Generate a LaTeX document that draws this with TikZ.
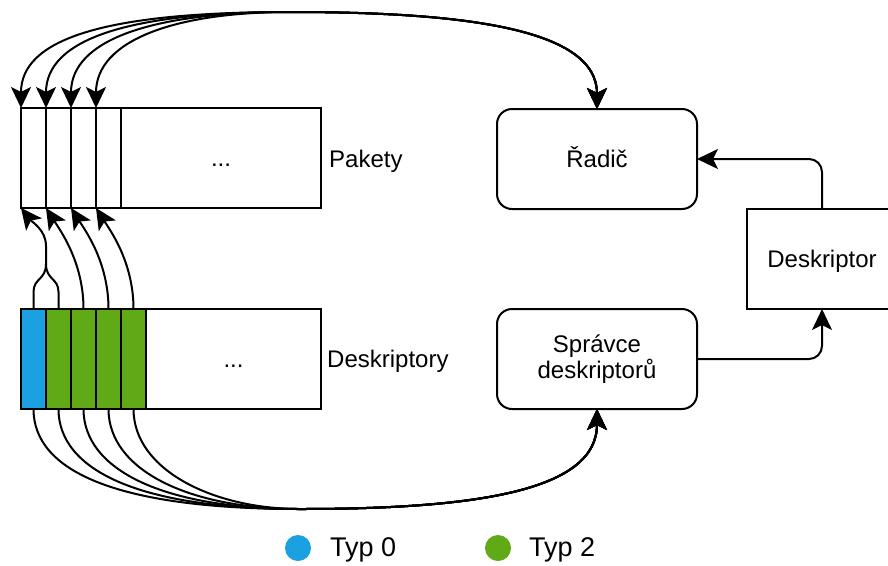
\documentclass[tikz,border=0pt]{standalone}
\usepackage{fontspec}
\setmainfont{Liberation Sans}
\usetikzlibrary{arrows.meta}
\definecolor{tblue}{HTML}{1BA1E2}
\definecolor{tgreen}{HTML}{60A917}
\tikzset{
  tip/.tip={Stealth[length=21pt,width=20pt,inset=5pt]},
  cell/.style={draw, line width=2pt, minimum width=25pt, minimum height=100pt, inner sep=0pt, outer sep=0pt},
  lbl/.style={font=\fontsize{24}{26}\selectfont, inner sep=0pt, text height=17pt, text depth=0pt},
  legtxt/.style={font=\fontsize{27}{30}\selectfont, inner sep=0pt},
  box/.style={draw, line width=2pt, rounded corners=15pt, minimum width=200pt, minimum height=100pt, inner sep=0pt, outer sep=0pt, font=\fontsize{24}{26}\selectfont},
  rectbox/.style={draw, line width=2pt, minimum width=150pt, minimum height=100pt, inner sep=0pt, outer sep=0pt, font=\fontsize{24}{26}\selectfont, text height=17pt, text depth=0pt},
  conn/.style={line width=2pt, -tip},
  biconn/.style={line width=2pt, tip-tip},
  plain/.style={line width=2pt},
  dot/.style={circle, minimum size=26pt, inner sep=0pt, outer sep=0pt}
}
\begin{document}
\begin{tikzpicture}[x=1pt,y=-1pt]
\useasboundingbox (0,0) rectangle (888,565);
\clip (0,0) rectangle (888,565);
% Pakety
\foreach \i/\x in {1/33.5,2/58.5,3/83.5,4/108.5}
  \node[cell] (p\i) at (\x,158) {};
\node[cell, lbl, minimum width=200pt] (pr) at (221,158) {...};
\node[lbl, anchor=base west] (pl) at (329,167) {Pakety};
% Deskriptory
\node[cell, fill=tblue] (d1) at (33.5,359) {};
\foreach \i/\x in {2/58.5,3/83.5,4/108.5,5/133.5}
  \node[cell, fill=tgreen] (d\i) at (\x,359) {};
\node[cell, lbl, minimum width=175pt] (dr) at (233.5,359) {...};
\node[lbl, anchor=base west] (dl) at (327,367) {Deskriptory};
% right side
\node[box, text height=17pt, text depth=0pt] (radic) at (597,159) {Řadič};
\node[box, align=center] (spr) at (597,359) {Správce\\deskriptorů};
\node[rectbox] (desk) at (822,259) {Deskriptor};
\draw[conn, rounded corners=13pt] (desk.north) |- (radic.east);
\draw[conn, rounded corners=13pt] (spr.east) -| (desk.south);
% top curves
\foreach \i/\x in {1/21,2/46,3/71,4/96}
  \draw[biconn] (p\i.north west) .. controls (\x,40) and (\x+80,12) .. (290,12) .. controls (470,12) and (597,30) .. (radic.north);
% bottom curves
\foreach \i/\x in {1/33.5,2/58.5,3/83.5,4/108.5,5/133.5}
  \draw[conn] (d\i.south) .. controls (\x,470) and (\x+80,509) .. (300,509) .. controls (480,509) and (597,490) .. (spr.south);
% descriptors to packets
\draw[conn] (d3.north) .. controls (83.5,262) and (60,230) .. (p2.south west);
\draw[conn] (d4.north) .. controls (108.5,262) and (85,230) .. (p3.south west);
\draw[conn] (d5.north) .. controls (133.5,262) and (110,230) .. (p4.south west);
\coordinate (m) at (46,264);
\draw[conn] (d1.north) -- (33.5,292) .. controls (33.5,278) and (46,280) .. (m) -- (46,246) .. controls (46,230) and (32,222) .. (p1.south west);
\draw[plain] (d2.north) -- (58.5,292) .. controls (58.5,278) and (46,280) .. (m);
% legend
\node[dot, fill=tblue] (c0) at (298,548) {};
\node[legtxt, anchor=base west] (t0) at (330,556) {Typ 0};
\node[dot, fill=tgreen] (c2) at (498,548) {};
\node[legtxt, anchor=base west] (t2) at (529,556) {Typ 2};
\end{tikzpicture}
\end{document}
